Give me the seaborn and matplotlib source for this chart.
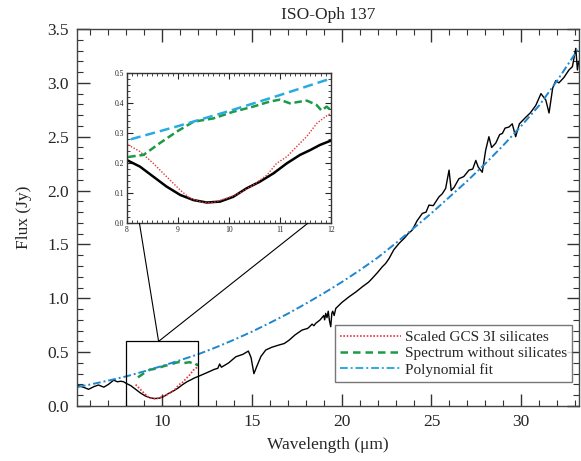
import numpy as np
import pandas as pd
import matplotlib
matplotlib.use("Agg")
import matplotlib.pyplot as plt
import seaborn as sns
from matplotlib.patches import Rectangle, ConnectionPatch
from matplotlib.ticker import MultipleLocator, FormatStrFormatter
from matplotlib.lines import Line2D

# ---------------- data ----------------
spec_wl = [5.30, 5.6, 5.9, 6.2, 6.45, 6.6, 6.75, 7.0, 7.3, 7.5, 7.7, 7.85, 8.0, 8.26, 8.52, 8.78,
           9.05, 9.31, 9.57, 9.83, 10.09, 10.35, 10.61, 10.88, 11.14, 11.4, 11.6, 11.79, 12.0,
           12.5, 12.9, 13.1, 13.2, 13.3, 13.7, 14.1, 14.5, 14.8, 14.95, 15.11, 15.3, 15.5, 15.77,
           16.1, 16.5, 16.8, 17.06, 17.4, 17.79, 18.1, 18.2, 18.35, 18.45, 18.55, 18.8, 19.0,
           19.05, 19.11, 19.18, 19.25, 19.32, 19.39, 19.45, 19.5, 19.58, 19.67, 20.0, 20.41,
           20.8, 21.15, 21.5, 21.7, 22.0, 22.26, 22.45, 22.64, 22.9, 23.19, 23.5, 23.7, 23.93,
           24.2, 24.49, 24.7, 24.86, 25.1, 25.42, 25.6, 25.79, 25.98, 26.1, 26.26, 26.53, 26.8,
           27.09, 27.3, 27.47, 27.6, 27.83, 28.02, 28.2, 28.35, 28.58, 28.8, 28.95, 29.1, 29.32,
           29.5, 29.69, 29.9, 30.25, 30.5, 30.81, 31.1, 31.37, 31.55, 31.75, 31.92, 32.1, 32.38,
           32.66, 32.85, 33.04, 33.13, 33.2]
spec_flux = [0.19, 0.175, 0.155, 0.18, 0.195, 0.185, 0.175, 0.2, 0.24, 0.225, 0.23, 0.225, 0.21,
             0.188, 0.155, 0.122, 0.094, 0.077, 0.069, 0.072, 0.088, 0.116, 0.138, 0.166, 0.199,
             0.227, 0.243, 0.26, 0.274, 0.31, 0.34, 0.35, 0.39, 0.36, 0.40, 0.457, 0.48, 0.51,
             0.45, 0.30, 0.38, 0.46, 0.52, 0.545, 0.566, 0.58, 0.61, 0.66, 0.705, 0.72, 0.735,
             0.76, 0.745, 0.767, 0.80, 0.84, 0.80, 0.86, 0.82, 0.88, 0.79, 0.736, 0.86, 0.88,
             0.84, 0.906, 0.96, 1.014, 1.06, 1.107, 1.15, 1.185, 1.24, 1.292, 1.324, 1.37, 1.45,
             1.509, 1.56, 1.60, 1.633, 1.72, 1.788, 1.80, 1.865, 1.86, 1.942, 1.97, 2.02, 2.19,
             2.0, 2.03, 2.11, 2.13, 2.19, 2.2, 2.28, 2.22, 2.17, 2.375, 2.5, 2.40, 2.44, 2.52,
             2.53, 2.58, 2.59, 2.62, 2.50, 2.62, 2.68, 2.72, 2.79, 2.90, 2.84, 2.72, 2.95, 3.02,
             3.0, 3.05, 3.12, 3.15, 3.32, 3.12, 3.2]

sil_wl = [8.03, 8.26, 8.52, 8.78, 9.05, 9.24, 9.5, 9.7, 9.96, 10.22, 10.48, 10.75, 10.94, 11.14,
          11.33, 11.53, 11.73, 11.9, 12.0]
sil_flux = [0.26, 0.238, 0.199, 0.155, 0.11, 0.083, 0.069, 0.069, 0.083, 0.10, 0.127, 0.16, 0.199,
            0.221, 0.254, 0.288, 0.332, 0.354, 0.365]

nosil_wl = [8.03, 8.33, 8.65, 8.98, 9.31, 9.7, 10.09, 10.48, 10.81, 11.0, 11.2, 11.53, 11.72,
            11.82, 11.92, 12.0]
nosil_flux = [0.22, 0.227, 0.266, 0.304, 0.337, 0.348, 0.370, 0.387, 0.404, 0.41, 0.398, 0.407,
              0.393, 0.374, 0.387, 0.376]

poly_wl = [5.3, 6, 7, 8, 9, 10, 11, 12, 13, 14, 15, 16, 17, 18, 19, 20, 21, 22, 23, 24, 25, 26,
           27, 28, 29, 30, 31, 32, 33, 33.25]
poly_flux = [0.177, 0.20, 0.236, 0.275, 0.322, 0.372, 0.425, 0.48, 0.545, 0.615, 0.69, 0.772,
             0.857, 0.95, 1.047, 1.15, 1.26, 1.377, 1.51, 1.65, 1.79, 1.94, 2.09, 2.25, 2.42,
             2.60, 2.79, 3.02, 3.27, 3.33]

legend_labels = ["Scaled GCS 3I silicates", "Spectrum without silicates", "Polynomial fit"]
title = "ISO-Oph 137"
xlabel = "Wavelength (\u03bcm)"
ylabel = "Flux (Jy)"

spec = pd.DataFrame({"wl": spec_wl, "flux": spec_flux})
sil = pd.DataFrame({"wl": sil_wl, "flux": sil_flux})
nosil = pd.DataFrame({"wl": nosil_wl, "flux": nosil_flux})
poly = pd.DataFrame({"wl": poly_wl, "flux": poly_flux})

# ---------------- style ----------------
sns.set_style("ticks")
plt.rcParams["font.family"] = ["Liberation Serif", "DejaVu Serif"]

RED = "#e8333a"
GREEN = "#1b9a47"
BLUE_MAIN = "#1f86d0"
BLUE_IN = "#2aaae2"

fig = plt.figure(figsize=(5.81, 4.61), dpi=100)
ax = fig.add_axes([0.1330, 0.1193, 0.8636, 0.8178])

kw = dict(estimator=None, sort=False, legend=False)
sns.lineplot(data=spec, x="wl", y="flux", ax=ax, color="black", lw=1.0, **kw)
sm = sil[sil.wl >= 8.5]
nm = nosil[nosil.wl >= 8.5]
sns.lineplot(data=sm, x="wl", y="flux", ax=ax, color=RED, lw=1.2, linestyle=(0, (1, 1)), **kw)
sns.lineplot(data=nm, x="wl", y="flux", ax=ax, color=GREEN, lw=1.8, linestyle=(0, (3, 2)), **kw)
sns.lineplot(data=poly, x="wl", y="flux", ax=ax, color=BLUE_MAIN, lw=1.4,
             linestyle=(0, (4, 1.5, 1, 1.5)), **kw)

ax.set_xlim(5.27, 33.22)
ax.set_ylim(0, 3.5)
ax.xaxis.set_major_locator(MultipleLocator(5))
ax.xaxis.set_minor_locator(MultipleLocator(1))
ax.yaxis.set_major_locator(MultipleLocator(0.5))
ax.yaxis.set_minor_locator(MultipleLocator(0.1))
ax.yaxis.set_major_formatter(FormatStrFormatter("%.1f"))
ax.tick_params(which="both", direction="in", top=True, right=True, labelsize=12.5, pad=6,
               color="#333333")
ax.tick_params(which="major", length=9, width=1)
ax.tick_params(which="minor", length=4.5, width=0.8)
for s in ax.spines.values():
    s.set_color("#444444")
    s.set_linewidth(1.0)
ax.set_xlabel(xlabel, fontsize=12.5, labelpad=5)
ax.set_ylabel(ylabel, fontsize=12.5, labelpad=11)
ax.set_title(title, fontsize=12.5, pad=7)

# legend
handles = [Line2D([], [], color=RED, lw=1.2, linestyle=(0, (1, 1))),
           Line2D([], [], color=GREEN, lw=1.8, linestyle=(0, (3, 2))),
           Line2D([], [], color=BLUE_IN, lw=1.4, linestyle=(0, (4, 1.5, 1, 1.5)))]
leg = ax.legend(handles, legend_labels, loc="lower right", bbox_to_anchor=(0.986, 0.064),
                fontsize=11, frameon=True, fancybox=False, edgecolor="#555555",
                handlelength=4.0, handletextpad=0.2, borderpad=0.35, labelspacing=0.15,
                borderaxespad=0.0)
leg.get_frame().set_linewidth(1.0)

# zoom box
ax.add_patch(Rectangle((8, 0), 4, 0.6, fill=False, edgecolor="black", lw=0.9, zorder=5))

# inset
axin = fig.add_axes([0.2181, 0.5156, 0.3511, 0.3270])
sns.lineplot(data=spec, x="wl", y="flux", ax=axin, color="black", lw=1.8, **kw)
sns.lineplot(data=sil, x="wl", y="flux", ax=axin, color=RED, lw=1.0, linestyle=(0, (1, 1.2)), **kw)
sns.lineplot(data=nosil, x="wl", y="flux", ax=axin, color=GREEN, lw=1.8, linestyle=(0, (3, 1.5)), **kw)
sns.lineplot(data=poly, x="wl", y="flux", ax=axin, color=BLUE_IN, lw=1.8, linestyle=(0, (4, 2)), **kw)
axin.set_xlim(8, 12)
axin.set_ylim(0, 0.5)
axin.set_xlabel("")
axin.set_ylabel("")
axin.xaxis.set_major_locator(MultipleLocator(1))
axin.xaxis.set_minor_locator(MultipleLocator(0.1))
axin.yaxis.set_major_locator(MultipleLocator(0.1))
axin.yaxis.set_minor_locator(MultipleLocator(0.02))
axin.yaxis.set_major_formatter(FormatStrFormatter("%.1f"))
axin.tick_params(which="both", direction="in", top=True, right=True, labelsize=5.5, pad=2)
axin.tick_params(which="major", length=4, width=0.8)
axin.tick_params(which="minor", length=2, width=0.6)
for s in axin.spines.values():
    s.set_color("#333333")
    s.set_linewidth(1.0)

# connector lines
for xs in (8.25, 11.55):
    cp = ConnectionPatch(xyA=(xs, 0), coordsA=axin.transData, xyB=(9.8, 0.6),
                         coordsB=ax.transData, color="black", lw=0.8)
    fig.add_artist(cp)

fig.savefig("out.png", dpi=100)
